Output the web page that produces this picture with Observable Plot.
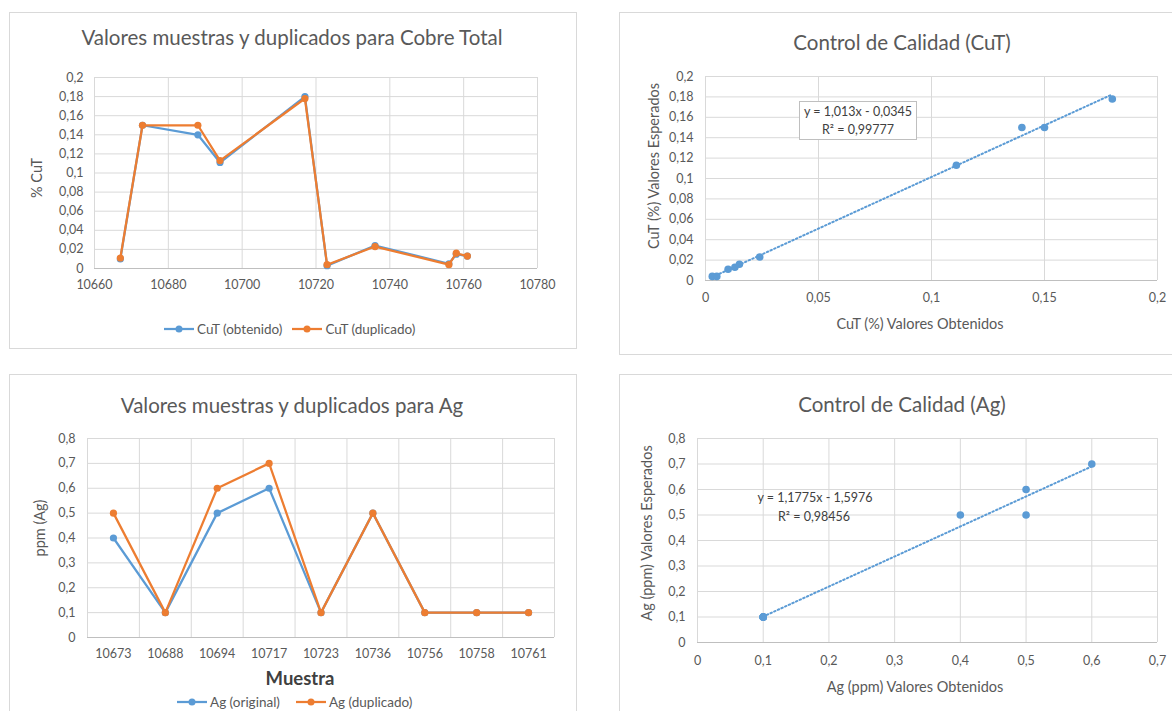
<!DOCTYPE html>
<html>
<head>
<meta charset="utf-8">
<script src="https://cdn.jsdelivr.net/npm/d3@7"></script>
<script src="https://cdn.jsdelivr.net/npm/@observablehq/plot@0.6"></script>
<style>
  html, body { margin: 0; padding: 0; background: #fff; overflow: hidden; }
  #page { position: relative; width: 1172px; height: 711px; overflow: hidden; font-family: Lato, "Open Sans", sans-serif; color: #595959; }
  .panel { position: absolute; box-sizing: border-box; border: 1px solid #D9D9D9; background: #fff; }
  .abs { position: absolute; white-space: nowrap; }
  .title { font-size: 20.5px; color: #595959; }
  .axt { font-size: 14.5px; color: #595959; }
  .legend { position: absolute; display: flex; align-items: center; font-size: 13.5px; color: #595959; }
  .legend .item { display: flex; align-items: center; }
  .eq { font-size: 12.5px; color: #404040; text-align: center; }
</style>
</head>
<body>
<div id="page"></div>
<script>
// ---------- DATA ----------
const cuMuestras  = [10667, 10673, 10688, 10694, 10717, 10723, 10736, 10756, 10758, 10761];
const cuObtenido  = [0.010, 0.150, 0.140, 0.111, 0.180, 0.003, 0.024, 0.005, 0.015, 0.013];
const cuDuplicado = [0.011, 0.150, 0.150, 0.113, 0.178, 0.004, 0.023, 0.004, 0.016, 0.013];
const cuXTicks = [10660, 10680, 10700, 10720, 10740, 10760, 10780];
const cuYTicks = [0, 0.02, 0.04, 0.06, 0.08, 0.1, 0.12, 0.14, 0.16, 0.18, 0.2];
const cuScatterXTicks = [0, 0.05, 0.1, 0.15, 0.2];

const agMuestras  = ["10673", "10688", "10694", "10717", "10723", "10736", "10756", "10758", "10761"];
const agOriginal  = [0.4, 0.1, 0.5, 0.6, 0.1, 0.5, 0.1, 0.1, 0.1];
const agDuplicado = [0.5, 0.1, 0.6, 0.7, 0.1, 0.5, 0.1, 0.1, 0.1];
const agYTicks = [0, 0.1, 0.2, 0.3, 0.4, 0.5, 0.6, 0.7, 0.8];
const agScatterXTicks = [0, 0.1, 0.2, 0.3, 0.4, 0.5, 0.6, 0.7];

const titles = {
  cuLine: "Valores muestras y duplicados para Cobre Total",
  cuScatter: "Control de Calidad (CuT)",
  agLine: "Valores muestras y duplicados para Ag",
  agScatter: "Control de Calidad (Ag)"
};
const eqCu = ["y = 1,013x - 0,0345", "R² = 0,99777"];
const eqAg = ["y = 1,1775x - 1,5976", "R² = 0,98456"];

// ---------- STYLE ----------
const BLUE = "#5B9BD5", ORANGE = "#ED7D31", GRID = "#D9D9D9", AXIS = "#BFBFBF";
const fmt = d => String(Math.round(d * 1000) / 1000).replace(".", ",");
const plotStyle = { fontFamily: "Lato, 'Open Sans', sans-serif", fontSize: "12.5px", color: "#595959", background: "transparent", overflow: "visible" };

const page = document.getElementById("page");
function el(cls, css, html) {
  const d = document.createElement("div");
  d.className = cls;
  Object.assign(d.style, css);
  if (html != null) d.innerHTML = html;
  page.appendChild(d);
  return d;
}
function place(svg, left, top) {
  svg.style.position = "absolute";
  svg.style.left = left + "px";
  svg.style.top = top + "px";
  page.appendChild(svg);
}
function centered(cls, text, cx, cy, rot) {
  el("abs " + cls, { left: cx + "px", top: cy + "px", transform: "translate(-50%,-50%)" + (rot ? " rotate(-90deg)" : "") }, text);
}
function swatch(color) {
  return `<svg width="30" height="10" style="margin-right:3px"><line x1="0" y1="5" x2="30" y2="5" stroke="${color}" stroke-width="2.25"/><circle cx="15" cy="5" r="3.5" fill="${color}"/></svg>`;
}
function legend(left, top, gap, items) {
  el("legend", { left: left + "px", top: top + "px" },
    items.map(([c, t]) => `<div class="item">${swatch(c)}<span>${t}</span></div>`).join(`<div style="width:${gap}px"></div>`));
}

// panel frames
el("panel", { left: "9px", top: "12px", width: "568px", height: "337px" });
el("panel", { left: "619px", top: "12px", width: "600px", height: "343px" });
el("panel", { left: "9px", top: "374px", width: "568px", height: "400px" });
el("panel", { left: "619px", top: "374px", width: "600px", height: "400px" });

// ---------- PANEL 1: Cu line chart ----------
const cuRows = cuMuestras.map((m, i) => ({ m, obt: cuObtenido[i], dup: cuDuplicado[i] }));
place(Plot.plot({
  width: 560, height: 240,
  marginLeft: 84, marginRight: 33, marginTop: 17, marginBottom: 32,
  style: plotStyle,
  x: { domain: [10660, 10780] },
  y: { domain: [0, 0.2] },
  marks: [
    Plot.ruleY(cuYTicks, { stroke: GRID }),
    Plot.ruleX(cuXTicks, { stroke: GRID }),
    Plot.ruleY([0], { stroke: AXIS }),
    Plot.axisX(cuXTicks, { tickSize: 0, tickPadding: 12, tickFormat: d => String(d), label: null }),
    Plot.axisY(cuYTicks, { tickSize: 0, tickPadding: 11, tickFormat: fmt, label: null }),
    Plot.line(cuRows, { x: "m", y: "obt", stroke: BLUE, strokeWidth: 2.25 }),
    Plot.dot(cuRows, { x: "m", y: "obt", fill: BLUE, r: 3.6 }),
    Plot.line(cuRows, { x: "m", y: "dup", stroke: ORANGE, strokeWidth: 2.25 }),
    Plot.dot(cuRows, { x: "m", y: "dup", fill: ORANGE, r: 3.6 })
  ]
}), 10, 60);
centered("title", titles.cuLine, 292, 37);
centered("axt", "% CuT", 36, 178, true);
legend(164, 321, 10, [[BLUE, "CuT (obtenido)"], [ORANGE, "CuT (duplicado)"]]);

// ---------- PANEL 2: Cu scatter ----------
place(Plot.plot({
  width: 552, height: 260,
  marginLeft: 85, marginRight: 15, marginTop: 16, marginBottom: 40,
  style: plotStyle,
  x: { domain: [0, 0.2] },
  y: { domain: [0, 0.2] },
  marks: [
    Plot.ruleY(cuYTicks, { stroke: GRID }),
    Plot.ruleX(cuScatterXTicks, { stroke: GRID }),
    Plot.ruleY([0], { stroke: AXIS }),
    Plot.axisX(cuScatterXTicks, { tickSize: 0, tickPadding: 13, tickFormat: fmt, label: null }),
    Plot.axisY(cuYTicks, { tickSize: 0, tickPadding: 12, tickFormat: fmt, label: null }),
    Plot.linearRegressionY(cuRows, { x: "obt", y: "dup", ci: 0, stroke: BLUE, strokeWidth: 2, strokeDasharray: "1.5,2.5" }),
    Plot.dot(cuRows, { x: "obt", y: "dup", fill: BLUE, r: 3.8 })
  ]
}), 620, 60);
centered("title", titles.cuScatter, 902, 42);
centered("axt", "CuT (%) Valores Obtenidos", 920, 323);
centered("axt", "CuT (%) Valores Esperados", 653, 166, true);
el("abs eq", { left: "799px", top: "101px", width: "118px", height: "39px", boxSizing: "border-box", border: "1px solid #BFBFBF", background: "#fff", lineHeight: "18px", paddingTop: "1px" },
  eqCu.join("<br>"));

// ---------- PANEL 3: Ag line chart ----------
const agRows = agMuestras.map((m, i) => ({ i, m, org: agOriginal[i], dup: agDuplicado[i] }));
const agIdx = agMuestras.map((m, i) => i);
const agEdges = d3.range(agMuestras.length + 1).map(i => i - 0.5);
place(Plot.plot({
  width: 560, height: 240,
  marginLeft: 77, marginRight: 16, marginTop: 18, marginBottom: 23,
  style: plotStyle,
  x: { domain: [-0.5, agMuestras.length - 0.5] },
  y: { domain: [0, 0.8] },
  marks: [
    Plot.ruleY(agYTicks, { stroke: GRID }),
    Plot.ruleX(agEdges, { stroke: GRID }),
    Plot.ruleY([0], { stroke: AXIS }),
    Plot.axisX(agIdx, { tickSize: 0, tickPadding: 12, tickFormat: i => agMuestras[i], label: null }),
    Plot.axisY(agYTicks, { tickSize: 0, tickPadding: 12, tickFormat: fmt, label: null }),
    Plot.line(agRows, { x: "i", y: "org", stroke: BLUE, strokeWidth: 2.25 }),
    Plot.dot(agRows, { x: "i", y: "org", fill: BLUE, r: 3.6 }),
    Plot.line(agRows, { x: "i", y: "dup", stroke: ORANGE, strokeWidth: 2.25 }),
    Plot.dot(agRows, { x: "i", y: "dup", fill: ORANGE, r: 3.6 })
  ]
}), 10, 420);
centered("title", titles.agLine, 292, 405);
centered("axt", "ppm (Ag)", 39, 528, true);
el("abs", { left: "300px", top: "678px", transform: "translate(-50%,-50%)", fontSize: "18.5px", fontWeight: "bold", color: "#404040" }, "Muestra");
legend(177, 694, 16, [[BLUE, "Ag (original)"], [ORANGE, "Ag (duplicado)"]]);

// ---------- PANEL 4: Ag scatter ----------
place(Plot.plot({
  width: 552, height: 250,
  marginLeft: 77, marginRight: 15, marginTop: 18, marginBottom: 28,
  style: plotStyle,
  x: { domain: [0, 0.7] },
  y: { domain: [0, 0.8] },
  marks: [
    Plot.ruleY(agYTicks, { stroke: GRID }),
    Plot.ruleX(agScatterXTicks, { stroke: GRID }),
    Plot.ruleY([0], { stroke: AXIS }),
    Plot.axisX(agScatterXTicks, { tickSize: 0, tickPadding: 14, tickFormat: fmt, label: null }),
    Plot.axisY(agYTicks, { tickSize: 0, tickPadding: 12, tickFormat: fmt, label: null }),
    Plot.linearRegressionY(agRows, { x: "org", y: "dup", ci: 0, stroke: BLUE, strokeWidth: 2, strokeDasharray: "1.5,2.5" }),
    Plot.dot(agRows, { x: "org", y: "dup", fill: BLUE, r: 3.8 })
  ]
}), 620, 420);
centered("title", titles.agScatter, 902, 404);
centered("axt", "Ag (ppm) Valores Obtenidos", 915, 686);
centered("axt", "Ag (ppm) Valores Esperados", 646, 533, true);
centered("eq", eqAg[0], 815, 497);
centered("eq", eqAg[1], 814, 516);
</script>
</body>
</html>
